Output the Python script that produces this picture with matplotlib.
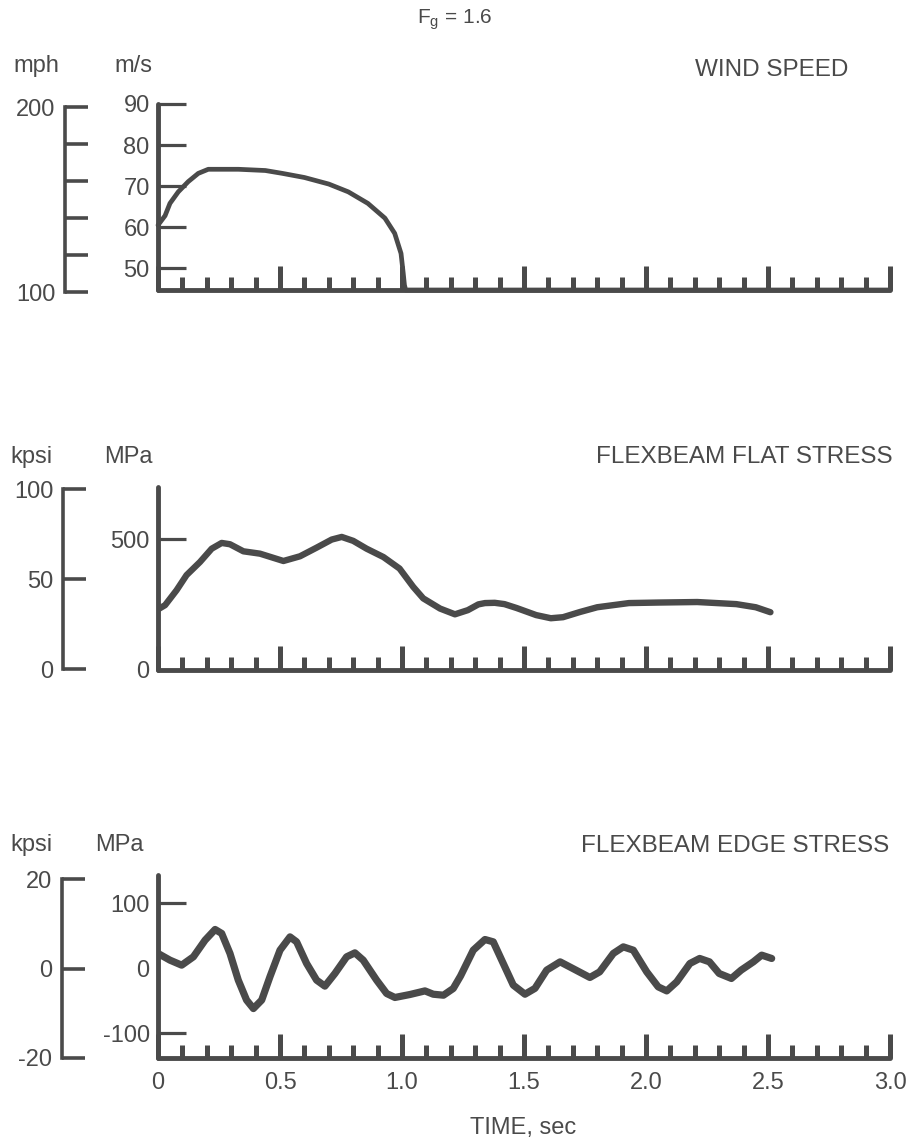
import matplotlib
matplotlib.use("Agg")
import matplotlib.pyplot as plt
import numpy as np

# ---------------- data ----------------
time_ticks = [0, 0.5, 1.0, 1.5, 2.0, 2.5, 3.0]
time_labels = ["0", "0.5", "1.0", "1.5", "2.0", "2.5", "3.0"]

wind_t = [0.0, 0.029, 0.049, 0.083, 0.124, 0.165, 0.206, 0.33, 0.44, 0.51,
          0.60, 0.70, 0.78, 0.86, 0.93, 0.97, 0.996, 1.005, 1.01, 1.015, 3.0]
wind_ms = [60.5, 62.8, 65.8, 68.6, 71.1, 73.1, 74.1, 74.1, 73.8, 73.1,
           72.1, 70.5, 68.6, 65.8, 62.2, 58.5, 53.6, 48.8, 45.9, 44.7, 44.7]

flat_t = [0.0, 0.029, 0.076, 0.117, 0.172, 0.22, 0.261, 0.295, 0.35, 0.418, 0.514,
          0.582, 0.65, 0.712, 0.753, 0.80, 0.855, 0.924, 0.99, 1.046, 1.087, 1.156,
          1.217, 1.27, 1.313, 1.34, 1.38, 1.42, 1.47, 1.55, 1.61, 1.66, 1.73, 1.80,
          1.93, 2.05, 2.21, 2.37, 2.45, 2.51]
flat_mpa = [232, 248, 305, 363, 413, 464, 486, 481, 454, 445, 417,
            435, 468, 499, 509, 494, 464, 432, 388, 318, 274, 235,
            213, 229, 251, 256, 257, 252, 237, 210, 198, 202, 222, 240,
            256, 258, 260, 252, 240, 221]

edge_t = [0.0, 0.049, 0.097, 0.145, 0.193, 0.234, 0.261, 0.295, 0.329, 0.363, 0.391,
          0.425, 0.459, 0.50, 0.541, 0.568, 0.609, 0.65, 0.684, 0.725, 0.773, 0.807,
          0.841, 0.896, 0.937, 0.971, 1.033, 1.094, 1.128, 1.17, 1.21, 1.24, 1.292,
          1.34, 1.374, 1.415, 1.456, 1.504, 1.545, 1.593, 1.648, 1.70, 1.77, 1.81,
          1.866, 1.907, 1.948, 2.003, 2.05, 2.085, 2.126, 2.18, 2.22, 2.26, 2.30,
          2.35, 2.39, 2.44, 2.474, 2.515]
edge_mpa = [22.6, 12.3, 4.6, 17.4, 43.0, 59.4, 53.3, 22.6, -18.4, -49.0, -62.0,
            -49.0, -13.0, 27.6, 48.0, 40.4, 7.2, -18.4, -27.6, -8.2, 17.4, 23.5,
            12.3, -18.4, -38.9, -45.0, -40.4, -34.9, -40.0, -41.5, -31.2, -12.0, 27.6,
            44.0, 40.4, 7.2, -26.0, -40.0, -31.0, -3.0, 9.7, -0.5, -14.3, -5.7,
            22.6, 32.7, 27.6, -5.7, -28.7, -34.9, -21.0, 7.2, 14.9, 9.7, -8.2,
            -15.8, -3.0, 9.7, 20.0, 14.9]

ms_ticks = [50, 60, 70, 80, 90]
mph_ticks = [100, 120, 140, 160, 180, 200]
mph_labels = ["100", "", "", "", "", "200"]
flat_kpsi_ticks = [0, 50, 100]
flat_mpa_ticks = [0, 500]
edge_kpsi_ticks = [-20, 0, 20]
edge_mpa_ticks = [-100, 0, 100]

# ---------------- style ----------------
W, H = 913, 1147
C = "#4a4a4a"
FONT = "Liberation Sans"
FS = 17
plt.rcParams["font.family"] = [FONT, "DejaVu Sans"]
plt.rcParams["mathtext.fontset"] = "custom"
plt.rcParams["mathtext.rm"] = FONT
plt.rcParams["axes.unicode_minus"] = False

fig = plt.figure(figsize=(W / 100, H / 100), dpi=100)
fig.patch.set_facecolor("white")


def rect(x0, ytop, x1, ybot):
    return [x0 / W, 1 - ybot / H, (x1 - x0) / W, (ybot - ytop) / H]


def main_axes(r, ylim, yticks, show_xlabels):
    ax = fig.add_axes(r)
    ax.set_xlim(0, 3.0)
    ax.set_ylim(*ylim)
    ax.patch.set_alpha(0)
    for s in ("top", "right"):
        ax.spines[s].set_visible(False)
    for s in ("left", "bottom"):
        ax.spines[s].set_color(C)
        ax.spines[s].set_linewidth(3.5)
        ax.spines[s].set_capstyle("round")
    ax.set_xticks(time_ticks)
    ax.set_xticks(np.arange(0, 3.0, 0.1), minor=True)
    ax.tick_params(axis="x", which="major", direction="in", length=17, width=3.6,
                   color=C, labelsize=FS, labelcolor=C, pad=10,
                   labelbottom=show_xlabels)
    ax.tick_params(axis="x", which="minor", direction="in", length=9.5, width=3.6,
                   color=C)
    if show_xlabels:
        ax.set_xticklabels(time_labels)
    ax.set_yticks(yticks)
    ax.tick_params(axis="y", which="major", direction="in", length=20, width=2.3,
                   color=C, labelsize=FS, labelcolor=C, pad=6)
    return ax


def side_axes(r, ylim, yticks, labels=None):
    ax = fig.add_axes(r)
    ax.set_ylim(*ylim)
    ax.patch.set_alpha(0)
    for s in ("top", "right", "bottom"):
        ax.spines[s].set_visible(False)
    ax.spines["left"].set_color(C)
    ax.spines["left"].set_linewidth(2.6)
    ax.set_xticks([])
    ax.set_yticks(yticks)
    if labels is not None:
        ax.set_yticklabels(labels)
    ax.tick_params(axis="y", direction="in", length=16.5, width=2.6, color=C,
                   labelsize=FS, labelcolor=C, pad=7)
    return ax


line_kw = dict(color=C, solid_capstyle="round", solid_joinstyle="round")

# ---------------- top: wind speed ----------------
ax1 = main_axes(rect(158, 104, 890, 290), (44.7, 90), ms_ticks, False)
ax1.plot(wind_t, wind_ms, lw=3.4, clip_on=False, **line_kw)
side_axes(rect(65, 107, 95, 292), (100, 200), mph_ticks, mph_labels)

fig.text(455 / W, 1 - 20 / H, r"F$_{\mathregular{g}}$ = 1.6", fontsize=15, color=C,
         ha="center", va="center")
fig.text(13 / W, 1 - 66 / H, "mph", fontsize=FS, color=C, ha="left", va="center")
fig.text(114 / W, 1 - 66 / H, "m/s", fontsize=FS, color=C, ha="left", va="center")
fig.text(848 / W, 1 - 70 / H, "WIND SPEED", fontsize=17.5, color=C, ha="right",
         va="center")

# ---------------- middle: flat stress ----------------
ax2 = main_axes(rect(158, 487, 890, 670), (0, 700), flat_mpa_ticks, False)
ax2.yaxis.get_major_ticks()[0].tick1line.set_visible(False)
ax2.plot(flat_t, flat_mpa, lw=4.6, **line_kw)
side_axes(rect(63, 489, 95, 669), (0, 100), flat_kpsi_ticks)

fig.text(10 / W, 1 - 457 / H, "kpsi", fontsize=FS, color=C, ha="left", va="center")
fig.text(104 / W, 1 - 457 / H, "MPa", fontsize=FS, color=C, ha="left", va="center")
fig.text(893 / W, 1 - 457 / H, "FLEXBEAM FLAT STRESS", fontsize=17.5, color=C,
         ha="right", va="center")

# ---------------- bottom: edge stress ----------------
ax3 = main_axes(rect(158, 875, 890, 1058), (-137.9, 143), edge_mpa_ticks, True)
ax3.yaxis.get_major_ticks()[1].tick1line.set_visible(False)
ax3.plot(edge_t, edge_mpa, lw=5.2, **line_kw)
side_axes(rect(62, 879, 95, 1058), (-20, 20), edge_kpsi_ticks)

fig.text(10 / W, 1 - 845 / H, "kpsi", fontsize=FS, color=C, ha="left", va="center")
fig.text(95 / W, 1 - 845 / H, "MPa", fontsize=FS, color=C, ha="left", va="center")
fig.text(889 / W, 1 - 846 / H, "FLEXBEAM EDGE STRESS", fontsize=17.5, color=C,
         ha="right", va="center")
fig.text(523 / W, 1 - 1128 / H, "TIME, sec", fontsize=FS, color=C, ha="center",
         va="center")

fig.savefig("out.png", dpi=100, facecolor="white")
